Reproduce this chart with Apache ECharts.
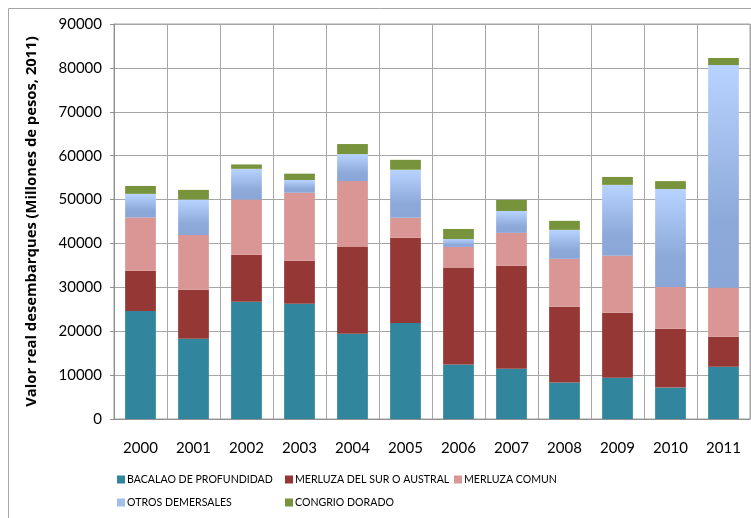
<!DOCTYPE html>
<html>
<head>
<meta charset="utf-8">
<script src="https://cdn.jsdelivr.net/npm/echarts@6/dist/echarts.min.js"></script>
<style>html,body{margin:0;padding:0;background:#fff}#c{width:751px;height:518px}</style>
</head>
<body>
<div id="c"></div>
<script>
const years = ['2000','2001','2002','2003','2004','2005','2006','2007','2008','2009','2010','2011'];
const bacalao = [24600, 18300, 26700, 26250, 19400, 21900, 12400, 11450, 8300, 9400, 7150, 11900];
const merluzaSur = [9200, 11150, 10700, 9800, 19800, 19400, 22100, 23450, 17300, 14800, 13400, 6850];
const merluzaComun = [12100, 12500, 12600, 15500, 15000, 4550, 4700, 7500, 10900, 13000, 9550, 11150];
const otros = [5400, 8050, 7000, 2900, 6150, 10950, 1800, 5000, 6600, 16150, 22300, 50750];
const congrio = [1800, 2200, 1000, 1450, 2300, 2250, 2300, 2500, 2050, 1800, 1800, 1600];
const yTicks = [0, 10000, 20000, 30000, 40000, 50000, 60000, 70000, 80000, 90000];

const names = ['BACALAO DE PROFUNDIDAD','MERLUZA DEL SUR O AUSTRAL','MERLUZA COMUN','OTROS DEMERSALES','CONGRIO DORADO'];
const dataSets = [bacalao, merluzaSur, merluzaComun, otros, congrio];
const blueGrad = new echarts.graphic.LinearGradient(0,0,0,1,[
  {offset:0,color:'#B8D3FF'},{offset:0.7,color:'#8DA9D9'},{offset:1,color:'#8BA7D8'}]);
const colors = ['#31859C','#953735','#D99694',blueGrad,'#77933C'];
const legendColors = ['#31859C','#953735','#D99694','#A3BEEB','#77933C'];

const FONT = 'Lato';
const chart = echarts.init(document.getElementById('c'), null, {renderer:'canvas'});

const legendPos = [[117,474],[285,474],[454,474],[117,497],[285,497]];
const legends = names.map((n,i)=>({
  data:[{name:n, itemStyle:{color:legendColors[i]}}],
  left: legendPos[i][0], top: legendPos[i][1],
  icon:'rect', itemWidth:8, itemHeight:8, itemGap:0,
  padding:0,
  selectedMode:false,
  textStyle:{fontFamily:FONT, fontSize:10.6, color:'#000', padding:[0,0,0,-3]}
}));

chart.setOption({
  animation:false,
  backgroundColor:'#fff',
  graphic:[{type:'rect', shape:{x:8.5,y:8.5,width:800,height:600}, style:{fill:'none', stroke:'#A6A6A6', lineWidth:1}, z:-1}],
  legend: legends,
  grid:{left:114, right:1, top:24, bottom:99, show:true, borderColor:'#A0A0A0', borderWidth:1},
  xAxis:{
    type:'category', data:years,
    axisLine:{show:true, lineStyle:{color:'#909090'}},
    axisTick:{show:false},
    splitLine:{show:true, lineStyle:{color:'#A6A6A6'}},
    axisLabel:{fontFamily:FONT, fontSize:15, color:'#000', margin:22}
  },
  yAxis:{
    type:'value', min:0, max:90000, interval:10000,
    name:'Valor real desembarques (Millones de pesos, 2011)',
    nameLocation:'middle', nameGap:75, nameRotate:90,
    nameTextStyle:{fontFamily:'Open Sans', fontSize:14.8, fontWeight:700, color:'#000'},
    axisLine:{show:true, lineStyle:{color:'#909090'}},
    axisTick:{show:true, length:4, lineStyle:{color:'#909090'}},
    splitLine:{show:true, lineStyle:{color:'#A6A6A6'}},
    axisLabel:{fontFamily:FONT, fontSize:15, color:'#000', margin:12,
      formatter:(v)=> yTicks.includes(v) ? String(v) : ''}
  },
  series: names.map((n,i)=>({
    name:n, type:'bar', stack:'total', barWidth:'58%',
    data:dataSets[i],
    itemStyle:{color:colors[i]}
  }))
});
</script>
</body>
</html>
